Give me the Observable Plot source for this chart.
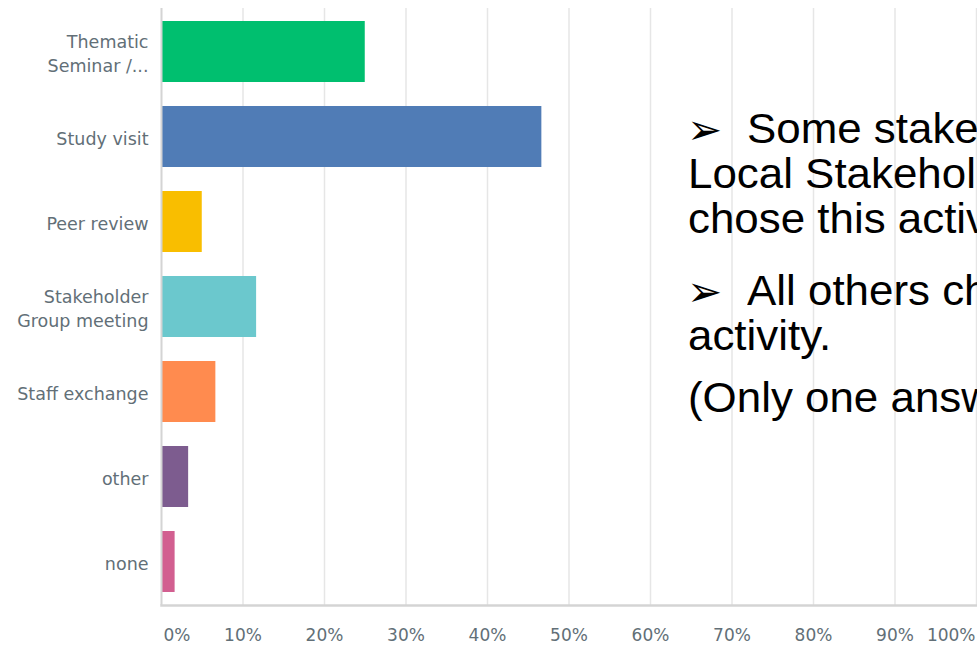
<!DOCTYPE html>
<html><head><meta charset="utf-8">
<script src="https://cdn.jsdelivr.net/npm/d3@7"></script>
<script src="https://cdn.jsdelivr.net/npm/@observablehq/plot@0.6"></script>
<style>
html,body{margin:0;padding:0;background:#fff;overflow:hidden;}
#wrap{position:relative;width:977px;height:646px;overflow:hidden;background:#fff;}
.note{position:absolute;white-space:nowrap;font-family:"Liberation Sans",Arial,sans-serif;font-size:42px;line-height:45px;color:#000;transform:scaleX(1.045);transform-origin:0 0;}
.arrow{position:absolute;white-space:nowrap;font-family:"DejaVu Sans",sans-serif;font-size:42px;line-height:45px;color:#000;}
</style></head><body><div id="wrap"><div id="chart"></div></div>
<script>
const categories = ["Thematic Seminar / Workshop", "Study visit", "Peer review", "Stakeholder Group meeting", "Staff exchange", "other", "none"];
const tickLabels = ["Thematic\nSeminar /...", "Study visit", "Peer review", "Stakeholder\nGroup meeting", "Staff exchange", "other", "none"];
const values = [25, 46.67, 5, 11.67, 6.67, 3.33, 1.67];
const palette = ["#00BF6F", "#507CB6", "#F9BE00", "#6BC8CD", "#FF8B4F", "#7D5C8F", "#D25F90"];
const xTicks = [0, 10, 20, 30, 40, 50, 60, 70, 80, 90, 100];
const noteLines = [
  {arrow: true, text: "Some stakeholders of the"},
  {arrow: false, text: "Local Stakeholder Groups also"},
  {arrow: false, text: "chose this activity."},
  {arrow: true, text: "All others chose another"},
  {arrow: false, text: "activity."},
  {arrow: false, text: "(Only one answer possible)"}
];

const data = categories.map((c, i) => ({category: c, value: values[i]}));
const fmt = d => d + "%";
const labelColor = "#626F77";

const chart = Plot.plot({
  width: 977, height: 646,
  marginLeft: 161, marginRight: 1, marginTop: 8, marginBottom: 41,
  style: {fontFamily: "DejaVu Sans, sans-serif", fontSize: "17px", color: labelColor, background: "#fff"},
  x: {domain: [0, 100]},
  y: {domain: categories, paddingInner: 0.285, paddingOuter: 0.1425},
  color: {domain: categories, range: palette},
  marks: [
    Plot.gridX(xTicks.slice(1), {stroke: "#e6e6e6", strokeOpacity: 1, strokeWidth: 1.5}),
    Plot.barX(data, {x: "value", y: "category", fill: "category"}),
    Plot.ruleX([0], {stroke: "#d4d4d4", strokeWidth: 2}),
    Plot.frame({anchor: "bottom", stroke: "#d4d4d4", strokeWidth: 2.5}),
    Plot.axisY({tickSize: 0, tickPadding: 13, label: null, lineHeight: 1.4, fontSize: 17.5, fill: labelColor,
      tickFormat: d => tickLabels[categories.indexOf(d)]}),
    Plot.axisX(xTicks.slice(0, 1), {tickSize: 0, tickPadding: 23, label: null, fontSize: 17, textAnchor: "start", dx: 2, fill: labelColor, tickFormat: fmt}),
    Plot.axisX(xTicks.slice(1, -1), {tickSize: 0, tickPadding: 23, label: null, fontSize: 17, fill: labelColor, tickFormat: fmt}),
    Plot.axisX(xTicks.slice(-1), {tickSize: 0, tickPadding: 23, label: null, fontSize: 17, textAnchor: "end", dx: -1, fill: labelColor, tickFormat: fmt})
  ]
});
document.getElementById("chart").appendChild(chart);

const wrap = document.getElementById("wrap");
const tops = [106, 151, 196, 268, 313, 375];
noteLines.forEach((ln, i) => {
  if (ln.arrow) {
    const a = document.createElement("div");
    a.className = "arrow";
    a.style.left = "687px";
    a.style.top = (tops[i] + 1) + "px";
    a.textContent = "\u27A2";
    wrap.appendChild(a);
  }
  const t = document.createElement("div");
  t.className = "note";
  t.style.left = (ln.arrow ? 747 : 688) + "px";
  t.style.top = tops[i] + "px";
  t.textContent = ln.text;
  wrap.appendChild(t);
});
</script>
</body></html>
